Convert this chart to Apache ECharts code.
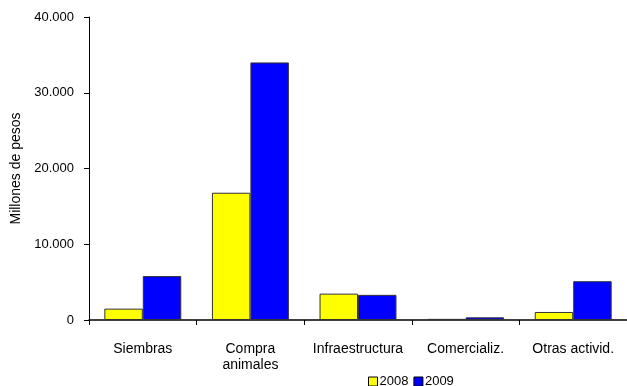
<!DOCTYPE html>
<html>
<head>
<meta charset="utf-8">
<script src="https://cdn.jsdelivr.net/npm/echarts@6/dist/echarts.min.js"></script>
<style>html,body{margin:0;padding:0;background:#fff;}#c{width:627px;height:386px;}</style>
</head>
<body>
<div id="c"></div>
<script>
const categories = ['Siembras', 'Compra\nanimales', 'Infraestructura', 'Comercializ.', 'Otras activid.'];
const values2008 = [1500, 16800, 3480, 150, 1060];
const values2009 = [5800, 34000, 3320, 350, 5120];
const yTicks = [0, 10000, 20000, 30000, 40000];
const seriesNames = ['2008', '2009'];

const fmt = v => v === 0 ? '0' : String(v).replace(/\B(?=(\d{3})+(?!\d))/g, '.');
const font = 'Liberation Sans, Arial, sans-serif';
const chart = echarts.init(document.getElementById('c'));
chart.setOption({
  animation: false,
  grid: { left: 89, right: 0, top: 17, bottom: 66 },
  legend: {
    data: seriesNames,
    left: 363, top: 370,
    itemWidth: 9, itemHeight: 9, itemGap: 5,
    icon: 'rect',
    textStyle: { fontFamily: font, fontSize: 13, color: '#000', padding: [0, 0, 0, -3] },
    itemStyle: { borderColor: '#000', borderWidth: 1 }
  },
  xAxis: {
    type: 'category',
    data: categories,
    axisLine: { lineStyle: { color: '#000', width: 1.5 } },
    axisTick: { show: true, length: 5, lineStyle: { color: '#000' } },
    axisLabel: { color: '#000', fontFamily: font, fontSize: 14, margin: 21, lineHeight: 16, interval: 0 }
  },
  yAxis: {
    type: 'value',
    min: 0, max: yTicks[yTicks.length - 1], interval: yTicks[1] - yTicks[0],
    name: 'Millones de pesos',
    nameLocation: 'middle', nameRotate: 90, nameGap: 66,
    nameTextStyle: { color: '#000', fontFamily: font, fontSize: 14 },
    axisLine: { show: true, lineStyle: { color: '#000', width: 1 } },
    axisTick: { show: true, inside: false, length: 5, lineStyle: { color: '#000' } },
    splitLine: { show: false },
    axisLabel: { color: '#000', fontFamily: font, fontSize: 13, margin: 15, formatter: fmt }
  },
  series: [
    { name: seriesNames[0], type: 'bar', data: values2008, barGap: '0%', barCategoryGap: '28.5%',
      itemStyle: { color: '#FFFF00', borderColor: '#333', borderWidth: 1 } },
    { name: seriesNames[1], type: 'bar', data: values2009, barGap: '0%', barCategoryGap: '28.5%',
      itemStyle: { color: '#0000FF', borderColor: '#333', borderWidth: 1 } }
  ]
});
</script>
</body>
</html>
